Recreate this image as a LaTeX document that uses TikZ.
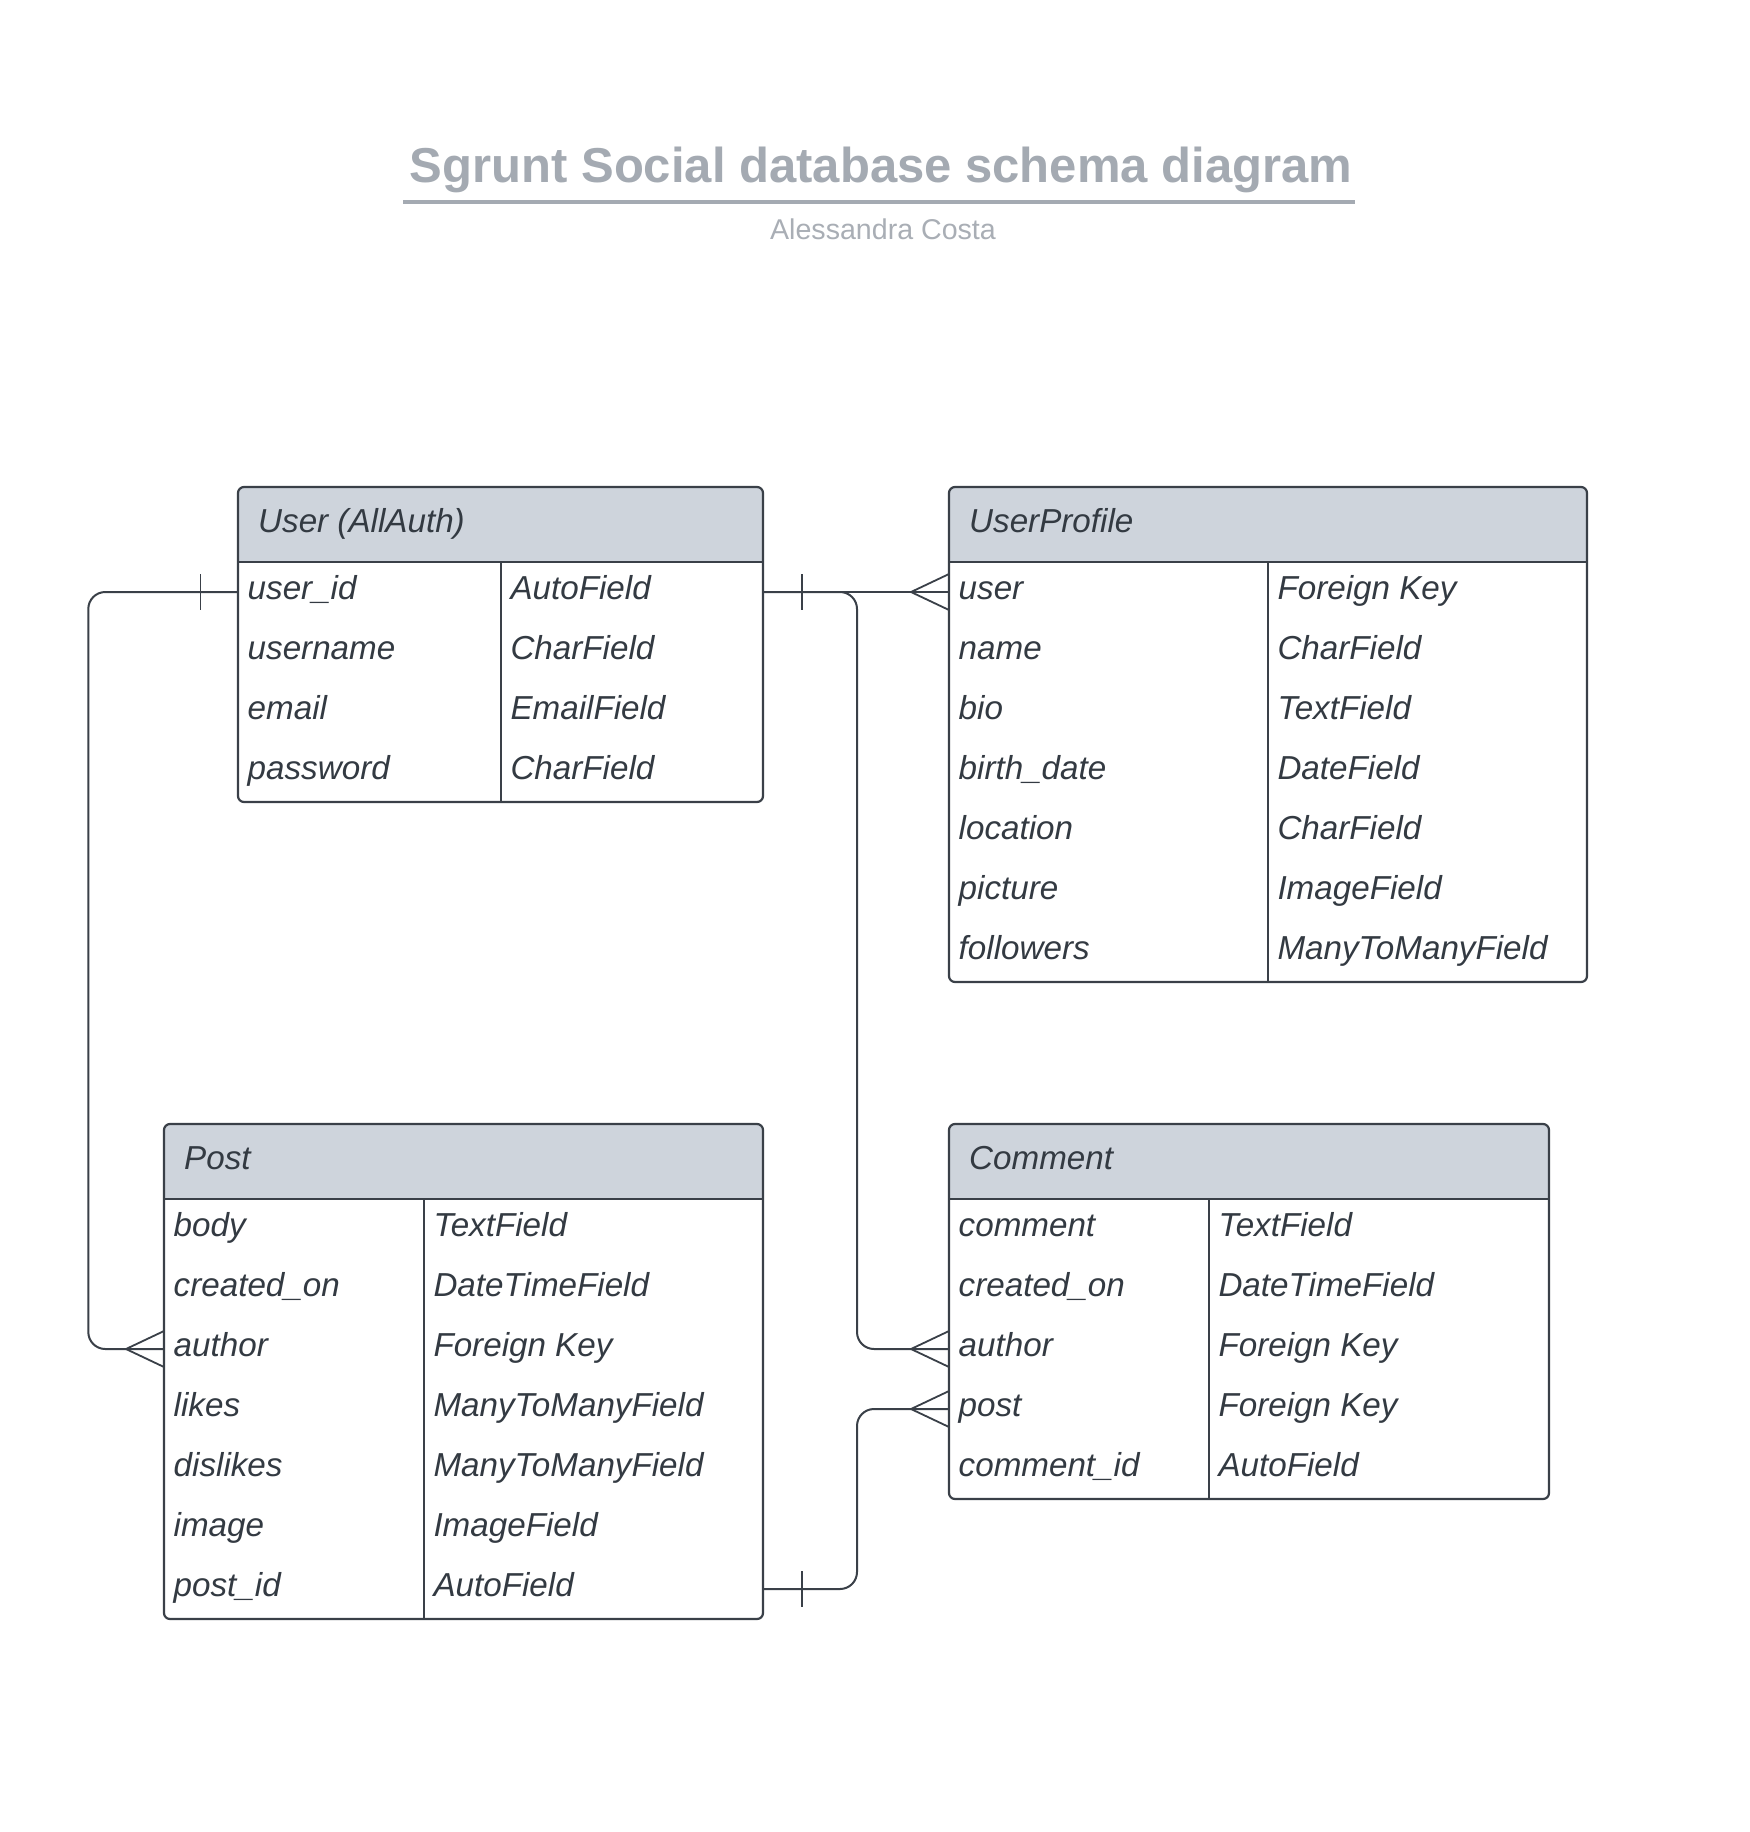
\documentclass[tikz,border=0pt]{standalone}
\usepackage{fontspec}
\setmainfont{Liberation Sans}
\usetikzlibrary{calc}
\definecolor{hdr}{HTML}{CED4DC}
\definecolor{ink}{HTML}{333A42}
\definecolor{edgec}{HTML}{3A4048}
\definecolor{ttl}{HTML}{A4AAB2}
\definecolor{subc}{HTML}{A9AEB5}
\tikzset{
  boxline/.style={draw=edgec, line width=2.2pt},
  divline/.style={draw=edgec, line width=1.6pt},
  conn/.style={draw=edgec, line width=2pt, rounded corners=17pt},
  thinconn/.style={draw=edgec, line width=1.2pt},
  fieldtext/.style={anchor=base west, inner sep=0pt, text=ink, font=\fontsize{33.2}{40}\selectfont\itshape},
  hdrtext/.style={anchor=base west, inner sep=0pt, text=ink, font=\fontsize{33.2}{40}\selectfont\itshape},
}
% #1 name, #2 x1, #3 x2, #4 xdiv, #5 ytop, #6 nrows, #7 title, #8 rows
\newcommand{\ertable}[8]{%
  \pgfmathsetmacro\erybot{#5+75+60*#6}%
  \pgfmathsetmacro\eryhb{#5+75}%
  \fill[white, rounded corners=6pt] (#2,#5) rectangle (#3,\erybot);
  \begin{scope}
    \clip[rounded corners=6pt] (#2,#5) rectangle (#3,\erybot);
    \fill[hdr] (#2,#5) rectangle (#3,\eryhb);
  \end{scope}
  \draw[divline] (#2,\eryhb) -- (#3,\eryhb);
  \draw[divline] (#4,\eryhb) -- (#4,\erybot);
  \draw[boxline, rounded corners=6pt] (#2,#5) rectangle (#3,\erybot);
  \node[hdrtext] (#1-title) at (#2+20,#5+45) {#7};
  \foreach \fa/\fb [count=\i] in {#8} {
    \pgfmathsetmacro\eryc{\eryhb+60*\i-30}
    \node[fieldtext] (#1-\i-a) at (#2+9.5,\eryc+7.5) {\fa};
    \node[fieldtext] (#1-\i-b) at (#4+9.3,\eryc+7.5) {\fb};
    \coordinate (#1-\i-L) at (#2,\eryc);
    \coordinate (#1-\i-R) at (#3,\eryc);
  }
}
\newcommand{\crowfoot}[1]{%
  \draw[edgec, line width=1.8pt] ([shift={(0,-18)}]#1) -- ([shift={(-38,0)}]#1) -- ([shift={(0,18)}]#1);
}
\newcommand{\onebar}[2]{%
  \draw[edgec, line width=1.8pt] ([shift={(#2,-18)}]#1) -- ([shift={(#2,18)}]#1);
}
\begin{document}
\begin{tikzpicture}[x=1pt,y=-1pt]
\useasboundingbox[fill=white] (0,0) rectangle (1749,1832);

% title
\node[anchor=base, inner sep=0pt, text=ttl, font=\fontsize{49}{58}\selectfont\bfseries] (title) at (881,182) {Sgrunt Social database schema diagram};
\draw[ttl, line width=4pt] (403,201.7) -- (1355,201.7);
\node[anchor=base, inner sep=0pt, text=subc, font=\fontsize{28.6}{34}\selectfont] (author) at (883,239) {Alessandra Costa};

% tables
\ertable{user}{238}{763}{501}{487}{4}{User (AllAuth)}{user\_id/AutoField, username/CharField, email/EmailField, password/CharField}
\ertable{up}{949}{1587}{1268}{487}{7}{UserProfile}{user/Foreign Key, name/CharField, bio/TextField, birth\_date/DateField, location/CharField, picture/ImageField, followers/ManyToManyField}
\ertable{post}{164}{763}{424}{1124}{7}{Post}{body/TextField, created\_on/DateTimeField, author/Foreign Key, likes/ManyToManyField, dislikes/ManyToManyField, image/ImageField, post\_id/AutoField}
\ertable{comment}{949}{1549}{1209}{1124}{5}{Comment}{comment/TextField, created\_on/DateTimeField, author/Foreign Key, post/Foreign Key, comment\_id/AutoField}

% connectors
\draw[thinconn] (user-1-R) -- (up-1-L);
\draw[conn] (user-1-L) -| ([xshift=-75.7pt]post-3-L) -- (post-3-L);
\draw[conn] (user-1-R) -| ([xshift=-92pt]comment-3-L) -- (comment-3-L);
\draw[conn] (post-7-R) -| ([xshift=-92pt]comment-4-L) -- (comment-4-L);

% cardinality marks
\onebar{user-1-L}{-37.5}
\onebar{user-1-R}{38.7}
\onebar{post-7-R}{38.7}
\crowfoot{up-1-L}
\crowfoot{post-3-L}
\crowfoot{comment-3-L}
\crowfoot{comment-4-L}
\end{tikzpicture}
\end{document}
